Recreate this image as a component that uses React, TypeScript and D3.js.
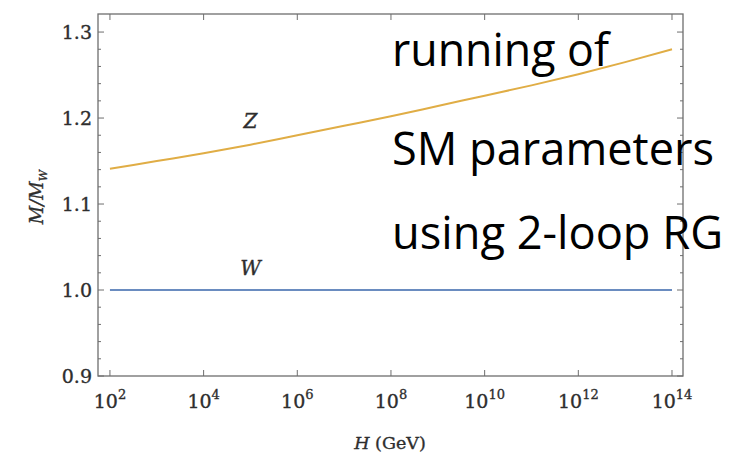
import * as React from "react";
import * as d3 from "d3";

// log10 of H (GeV) and M/M_W
const logH = [2, 3, 4, 5, 6, 7, 8, 9, 10, 11, 12, 13, 14];
const zRatio = [1.141, 1.15, 1.159, 1.169, 1.18, 1.191, 1.202, 1.214, 1.226, 1.238, 1.251, 1.265, 1.28];
const wRatio = [1, 1, 1, 1, 1, 1, 1, 1, 1, 1, 1, 1, 1];

const xTickExp = [2, 4, 6, 8, 10, 12, 14];
const yMajor = [0.9, 1.0, 1.1, 1.2, 1.3];
const yMinor = d3.range(0.92, 1.32, 0.02).filter((v) => Math.abs(Math.round(v * 10) - v * 10) > 0.01);

const curveLabels = [
  { name: "Z", logH: 5, value: 1.188 },
  { name: "W", logH: 5, value: 1.017 },
];
const overlayLines = ["running of", "SM parameters", "using 2-loop RG"];

function App() {
  const width = 744;
  const height = 455;
  const left = 98;
  const right = 683;
  const top = 14;
  const bottom = 376;

  const x = d3.scaleLog().domain([10 ** 1.745, 10 ** 14.235]).range([left, right]);
  const y = d3.scaleLinear().domain([0.9, 1.321]).range([bottom, top]);

  const line = (vals: number[]) =>
    d3
      .line<number>()
      .x((d, i) => x(10 ** logH[i]))
      .y((d) => y(d))
      .curve(d3.curveMonotoneX)(vals) as string;

  const frame = "#6e6e6e";
  const serif = "'DejaVu Serif', serif";
  const ink = "#2e2e2e";

  return (
    <svg
      width={width}
      height={height}
      style={{ position: "absolute", left: 0, top: 0, background: "#fff" }}
    >
      <rect x={0} y={0} width={width} height={height} fill="#fff" />

      {/* ticks, all pointing inwards */}
      {xTickExp.map((e) => (
        <g key={"xt" + e} stroke={frame} strokeWidth={1}>
          <line x1={x(10 ** e)} x2={x(10 ** e)} y1={bottom} y2={bottom - 6} />
          <line x1={x(10 ** e)} x2={x(10 ** e)} y1={top} y2={top + 6} />
        </g>
      ))}
      {yMajor.map((v) => (
        <g key={"ym" + v} stroke={frame} strokeWidth={1}>
          <line x1={left} x2={left + 6} y1={y(v)} y2={y(v)} />
          <line x1={right} x2={right - 6} y1={y(v)} y2={y(v)} />
        </g>
      ))}
      {yMinor.map((v) => (
        <g key={"yn" + v} stroke={frame} strokeWidth={1}>
          <line x1={left} x2={left + 3} y1={y(v)} y2={y(v)} />
          <line x1={right} x2={right - 3} y1={y(v)} y2={y(v)} />
        </g>
      ))}

      {/* curves */}
      <path d={line(wRatio)} fill="none" stroke="#6a8cc0" strokeWidth={2} />
      <path d={line(zRatio)} fill="none" stroke="#e0ad45" strokeWidth={2} />

      <rect
        x={left}
        y={top}
        width={right - left}
        height={bottom - top}
        fill="none"
        stroke={frame}
        strokeWidth={1.3}
      />

      {/* tick labels */}
      <g fontFamily={serif} fill={ink} stroke={ink} strokeWidth={0.35}>
        {yMajor.map((v) => (
          <text
            key={"yl" + v}
            x={left - 6}
            y={y(v)}
            textAnchor="end"
            dominantBaseline="central"
            fontSize={19}
          >
            {v.toFixed(1)}
          </text>
        ))}
        {xTickExp.map((e) => (
          <text key={"xl" + e} x={x(10 ** e)} y={bottom + 32} textAnchor="middle" fontSize={19}>
            10
            <tspan fontSize={13} dy={-9}>
              {e}
            </tspan>
          </text>
        ))}

        {/* axis titles */}
        <text x={390} y={449} textAnchor="middle" fontSize={17.5}>
          <tspan fontStyle="italic">H</tspan> (GeV)
        </text>
        <text
          transform={`translate(43, 197) rotate(-90)`}
          textAnchor="middle"
          fontSize={18}
          fontStyle="italic"
        >
          M/M
          <tspan fontSize={11} dy={4}>
            W
          </tspan>
        </text>

        {curveLabels.map((l) => (
          <text
            key={l.name}
            x={x(10 ** l.logH)}
            y={y(l.value)}
            textAnchor="middle"
            fontSize={20}
            fontStyle="italic"
          >
            {l.name}
          </text>
        ))}
      </g>

      {/* overlaid slide text */}
      {overlayLines.map((t, i) => (
        <text
          key={t}
          x={392}
          y={[66, 165, 249][i]}
          fontFamily="'Open Sans', sans-serif"
          fontSize={46}
          textLength={[217, 322, 331][i]}
          lengthAdjust="spacingAndGlyphs"
          fill="#000"
        >
          {t}
        </text>
      ))}
    </svg>
  );
}

export default App;
